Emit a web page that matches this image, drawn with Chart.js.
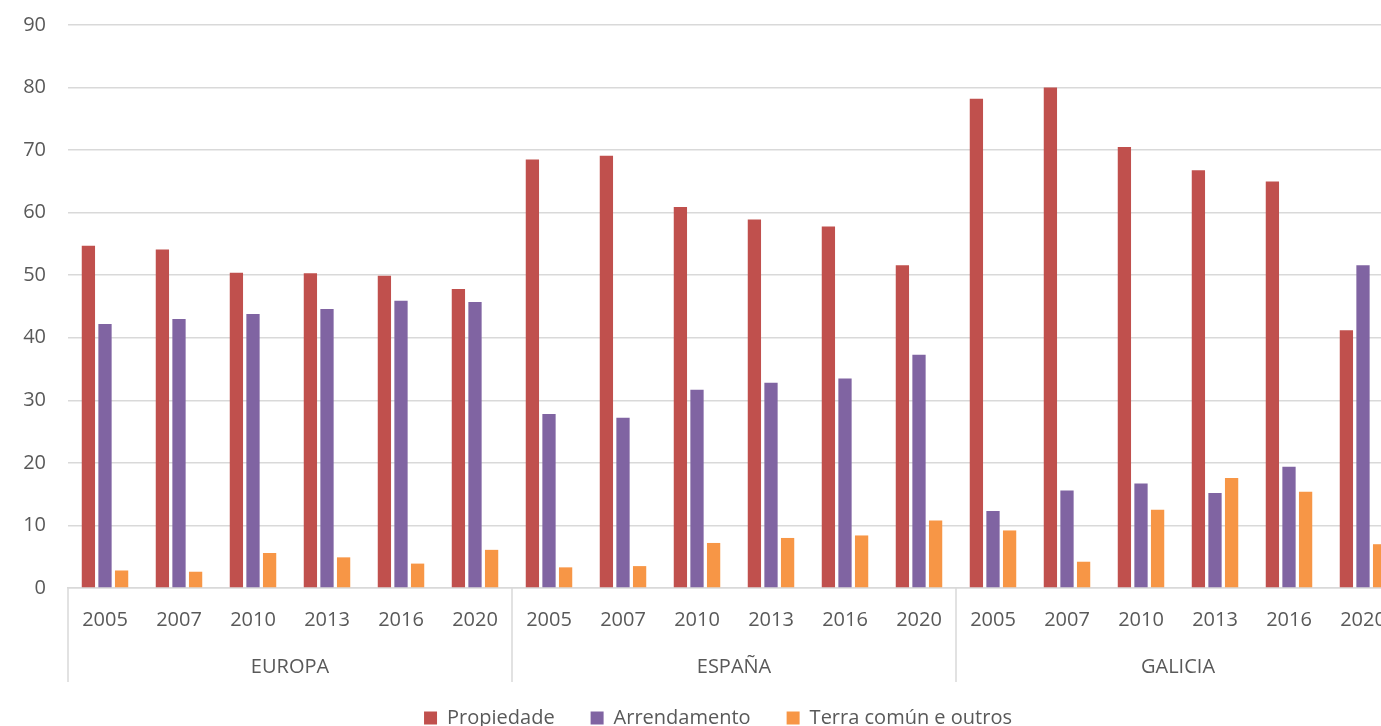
<!DOCTYPE html>
<html>
<head>
<meta charset="utf-8">
<script src="https://cdn.jsdelivr.net/npm/chart.js@4"></script>
<style>
  body { margin: 0; overflow: hidden; background: #fff; }
  #wrap { width: 1440px; height: 748px; }
</style>
</head>
<body>
<div id="wrap"><canvas id="myChart"></canvas></div>
<script>
// rexións e anos (eixo X en dous niveis)
const groups = ['EUROPA', 'ESPAÑA', 'GALICIA'];
const years = ['2005', '2007', '2010', '2013', '2016', '2020'];

const propiedade = [54.7, 54.1, 50.4, 50.3, 49.9, 47.8, 68.5, 69.1, 60.9, 58.9, 57.8, 51.6, 78.2, 80.0, 70.5, 66.8, 65.0, 41.2];
const arrendamento = [42.2, 43.0, 43.8, 44.6, 45.9, 45.7, 27.8, 27.2, 31.7, 32.8, 33.5, 37.3, 12.3, 15.6, 16.7, 15.2, 19.4, 51.6];
const terraComun = [2.8, 2.6, 5.6, 4.9, 3.9, 6.1, 3.3, 3.5, 7.2, 8.0, 8.4, 10.8, 9.2, 4.2, 12.5, 17.6, 15.4, 7.0];

const yTicks = [0, 10, 20, 30, 40, 50, 60, 70, 80, 90];

const labels = groups.flatMap(g => years);
const textColor = '#595959';
const lineColor = '#d9d9d9';
const font = { family: '"Open Sans", sans-serif', size: 20 };

// liñas que separan as rexións debaixo do eixo
const separators = {
    id: 'separators',
    afterLayout(chart) {
        // achegar a lenda ao eixo e centrala sen o oco final
        const l = chart.legend;
        l.top -= 10;
        l.bottom -= 10;
        l.left += 18;
        l.right += 18;
    },
    afterDraw(chart) {
        const x = chart.scales.x;
        const x2 = chart.scales.x2;
        const half = (x.getPixelForValue(1) - x.getPixelForValue(0)) / 2;
        const ctx = chart.ctx;
        ctx.save();
        ctx.strokeStyle = lineColor;
        ctx.lineWidth = 1.5;
        for (let i = 0; i <= labels.length; i += years.length) {
            const px = x.getPixelForValue(i) - half;
            ctx.beginPath();
            ctx.moveTo(px, chart.chartArea.bottom);
            ctx.lineTo(px, x2.bottom);
            ctx.stroke();
        }
        ctx.restore();
    }
};

const ctx = document.getElementById('myChart');

const dataset = {
    labels: labels,
    datasets: [{
        label: 'Propiedade',
        data: propiedade,
        backgroundColor: '#c0504d'
    }, {
        label: 'Arrendamento',
        data: arrendamento,
        backgroundColor: '#8064a2'
    }, {
        label: 'Terra común e outros',
        data: terraComun,
        backgroundColor: '#f79646'
    }]
};

const config = {
    type: 'bar',
    data: dataset,
    options: {
        responsive: true,
        maintainAspectRatio: false,
        animation: false,
        categoryPercentage: 0.673,
        barPercentage: 0.8,
        layout: { padding: { top: 25, right: 40, left: 0, bottom: 0 } },
        plugins: {
            tooltip: { enabled: false },
            legend: {
                position: 'bottom',
                labels: {
                    boxWidth: 13,
                    boxHeight: 13,
                    padding: 36,
                    color: textColor,
                    font: font
                }
            }
        },
        scales: {
            x: {
                weight: 0,
                grid: { display: false, drawTicks: false },
                border: { color: lineColor, width: 1.5 },
                ticks: {
                    color: textColor,
                    font: font,
                    padding: 20,
                    autoSkip: false,
                    maxRotation: 0
                }
            },
            x2: {
                axis: 'x',
                type: 'category',
                position: 'bottom',
                weight: 1,
                labels: groups,
                offset: true,
                grid: { display: false, drawTicks: false },
                border: { display: false },
                ticks: {
                    color: textColor,
                    font: font,
                    padding: 3,
                    maxRotation: 0
                }
            },
            y: {
                min: 0,
                max: 90,
                afterFit: (scale) => {
                    scale.width = 68;
                    scale.paddingTop = 0;
                    scale.paddingBottom = 0;
                },
                afterBuildTicks: (scale) => { scale.ticks = yTicks.map(v => ({ value: v })); },
                grid: { color: lineColor, lineWidth: 1.5, drawTicks: false },
                border: { display: false },
                ticks: {
                    color: textColor,
                    font: font,
                    padding: 22
                }
            }
        }
    },
    plugins: [separators]
};

const chart = new Chart(ctx, config);
</script>
</body>
</html>
